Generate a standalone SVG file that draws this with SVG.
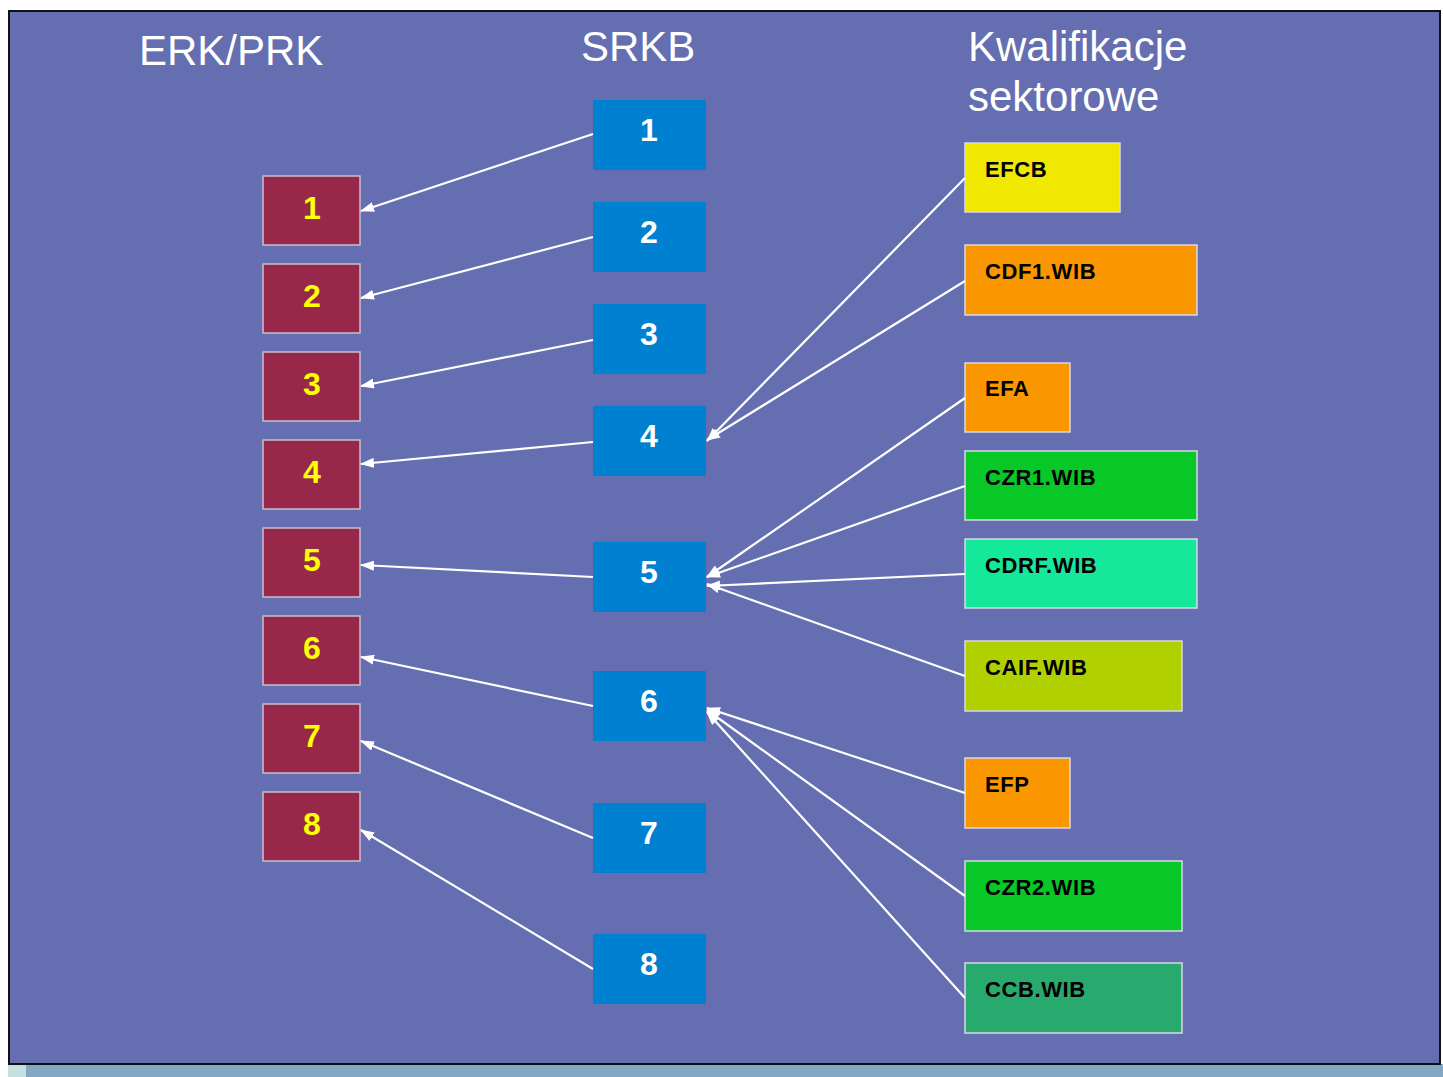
<svg xmlns="http://www.w3.org/2000/svg" width="1443" height="1077" viewBox="0 0 1443 1077">
<defs>
<marker id="ah" viewBox="0 0 14 10" refX="13" refY="5" markerWidth="14" markerHeight="10" markerUnits="userSpaceOnUse" orient="auto">
<path d="M0,0 L14,5 L0,10 z" fill="#ffffff"/>
</marker>
<style>
.title{font-family:"Liberation Sans",Arial,sans-serif;font-size:42px;fill:#ffffff}
.erk rect{fill:#98284a;stroke:#c8c0d0;stroke-width:1.5}
.erk text{font-family:"Liberation Sans",Arial,sans-serif;font-weight:bold;font-size:32px;fill:#ffff00;text-anchor:middle}
.srkb rect{fill:#0080d0}
.srkb text{font-family:"Liberation Sans",Arial,sans-serif;font-weight:bold;font-size:32px;fill:#ffffff;text-anchor:middle}
.kw rect{stroke:#d8d8e8;stroke-width:1.5}
.kw text{font-family:"Liberation Sans",Arial,sans-serif;font-weight:bold;font-size:22px;letter-spacing:0.6px;fill:#000000}
.conn line{stroke:#ffffff;stroke-width:2.2;marker-end:url(#ah)}
</style>
</defs>
<rect x="0" y="0" width="1443" height="1077" fill="#ffffff"/>
<rect x="8" y="1064" width="1435" height="13" fill="#84a8c4"/>
<rect x="8" y="1064" width="18" height="13" fill="#c4e0e0"/>
<rect x="9" y="11" width="1431" height="1053" fill="#646eb0" stroke="#111111" stroke-width="2"/>

<text class="title" x="139" y="65">ERK/PRK</text>
<text class="title" x="581" y="61">SRKB</text>
<text class="title" x="968" y="61">Kwalifikacje</text>
<text class="title" x="968" y="111">sektorowe</text>

<g id="erk1" class="erk"><rect x="263" y="176" width="97" height="69"/><text x="312" y="219">1</text></g>
<g id="erk2" class="erk"><rect x="263" y="264" width="97" height="69"/><text x="312" y="307">2</text></g>
<g id="erk3" class="erk"><rect x="263" y="352" width="97" height="69"/><text x="312" y="395">3</text></g>
<g id="erk4" class="erk"><rect x="263" y="440" width="97" height="69"/><text x="312" y="483">4</text></g>
<g id="erk5" class="erk"><rect x="263" y="528" width="97" height="69"/><text x="312" y="571">5</text></g>
<g id="erk6" class="erk"><rect x="263" y="616" width="97" height="69"/><text x="312" y="659">6</text></g>
<g id="erk7" class="erk"><rect x="263" y="704" width="97" height="69"/><text x="312" y="747">7</text></g>
<g id="erk8" class="erk"><rect x="263" y="792" width="97" height="69"/><text x="312" y="835">8</text></g>

<g id="srkb1" class="srkb"><rect x="593" y="100" width="113" height="70"/><text x="649" y="141">1</text></g>
<g id="srkb2" class="srkb"><rect x="593" y="202" width="113" height="70"/><text x="649" y="243">2</text></g>
<g id="srkb3" class="srkb"><rect x="593" y="304" width="113" height="70"/><text x="649" y="345">3</text></g>
<g id="srkb4" class="srkb"><rect x="593" y="406" width="113" height="70"/><text x="649" y="447">4</text></g>
<g id="srkb5" class="srkb"><rect x="593" y="542" width="113" height="70"/><text x="649" y="583">5</text></g>
<g id="srkb6" class="srkb"><rect x="593" y="671" width="113" height="70"/><text x="649" y="712">6</text></g>
<g id="srkb7" class="srkb"><rect x="593" y="803" width="113" height="70"/><text x="649" y="844">7</text></g>
<g id="srkb8" class="srkb"><rect x="593" y="934" width="113" height="70"/><text x="649" y="975">8</text></g>

<g id="efcb" class="kw"><rect x="965" y="143" width="155" height="69" fill="#f0e800"/><text x="985" y="177">EFCB</text></g>
<g id="cdf1" class="kw"><rect x="965" y="245" width="232" height="70" fill="#fa9600"/><text x="985" y="279">CDF1.WIB</text></g>
<g id="efa" class="kw"><rect x="965" y="363" width="105" height="69" fill="#fa9600"/><text x="985" y="396">EFA</text></g>
<g id="czr1" class="kw"><rect x="965" y="451" width="232" height="69" fill="#08c828"/><text x="985" y="485">CZR1.WIB</text></g>
<g id="cdrf" class="kw"><rect x="965" y="539" width="232" height="69" fill="#14e89a"/><text x="985" y="573">CDRF.WIB</text></g>
<g id="caif" class="kw"><rect x="965" y="641" width="217" height="70" fill="#b0d000"/><text x="985" y="675">CAIF.WIB</text></g>
<g id="efp" class="kw"><rect x="965" y="758" width="105" height="70" fill="#fa9600"/><text x="985" y="792">EFP</text></g>
<g id="czr2" class="kw"><rect x="965" y="861" width="217" height="70" fill="#08c828"/><text x="985" y="895">CZR2.WIB</text></g>
<g id="ccb" class="kw"><rect x="965" y="963" width="217" height="70" fill="#28aa6e"/><text x="985" y="997">CCB.WIB</text></g>

<g id="connectors" class="conn">
<line x1="593" y1="134" x2="361" y2="211"/>
<line x1="593" y1="237" x2="361" y2="298"/>
<line x1="593" y1="340" x2="361" y2="386"/>
<line x1="593" y1="442" x2="361" y2="464"/>
<line x1="593" y1="577" x2="361" y2="565"/>
<line x1="593" y1="706" x2="361" y2="657"/>
<line x1="593" y1="838" x2="361" y2="741"/>
<line x1="593" y1="969" x2="361" y2="830"/>
<line x1="965" y1="178" x2="707" y2="441"/>
<line x1="965" y1="281" x2="707" y2="440"/>
<line x1="965" y1="398" x2="707" y2="577"/>
<line x1="965" y1="486" x2="707" y2="577"/>
<line x1="965" y1="574" x2="707" y2="586"/>
<line x1="965" y1="676" x2="707" y2="584"/>
<line x1="965" y1="793" x2="707" y2="708"/>
<line x1="965" y1="896" x2="707" y2="710"/>
<line x1="965" y1="998" x2="707" y2="712"/>
</g>
</svg>
